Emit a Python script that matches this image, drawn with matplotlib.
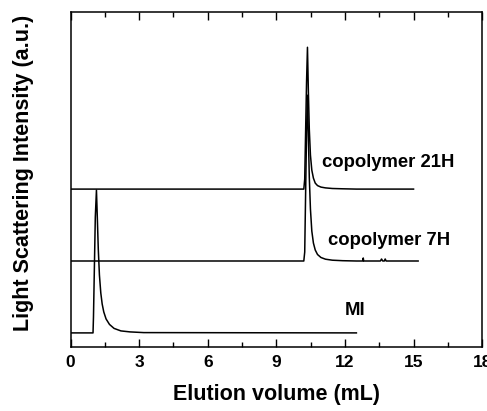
import matplotlib.pyplot as plt
from matplotlib.ticker import MultipleLocator

plt.rcParams['font.family'] = ['Liberation Sans', 'DejaVu Sans']
plt.rcParams['font.weight'] = 'bold'

# traces (x in mL, y in arbitrary units)
mi_x = [0, 0.98, 1.0, 1.08, 1.13, 1.17, 1.21, 1.26, 1.32, 1.38, 1.45, 1.55, 1.7, 1.9, 2.2, 2.6, 3.2, 12.5]
mi_y = [14, 14, 30, 130, 157, 128, 98, 72, 54, 43, 35, 28, 22.5, 18.5, 16, 15, 14.3, 14]

h7_x = [0, 10.2, 10.24, 10.32, 10.36, 10.4, 10.44, 10.49, 10.55, 10.62, 10.7, 10.8, 10.95, 11.15,
        11.45, 11.9, 12.5, 12.78, 12.8, 12.82, 13.55, 13.6, 13.65, 13.72, 13.76, 13.8, 15.2]
h7_y = [86, 86, 95, 215, 252, 210, 170, 138, 116, 104, 97, 92.5, 89.5, 87.8,
        86.8, 86.3, 86, 86, 89, 86, 86, 88, 86, 86, 88, 86, 86]

h21_x = [0, 10.2, 10.24, 10.32, 10.36, 10.4, 10.44, 10.49, 10.55, 10.62, 10.7, 10.8, 10.95, 11.15,
         11.45, 11.9, 12.5, 15.0]
h21_y = [158, 158, 168, 265, 300, 255, 218, 192, 177, 169, 164, 161.5, 160, 159.2,
         158.6, 158.3, 158, 158]

labels = ['copolymer 21H', 'copolymer 7H', 'MI']
label_x = [11.0, 11.25, 12.0]
label_y = [185, 107, 36]

fig = plt.figure(figsize=(4.87, 4.11), dpi=100)
ax = fig.add_axes([0.145, 0.156, 0.845, 0.814])

for xs, ys in [(mi_x, mi_y), (h7_x, h7_y), (h21_x, h21_y)]:
    ax.plot(xs, ys, color='black', lw=1.1)

for t, x, y in zip(labels, label_x, label_y):
    ax.text(x, y, t, fontsize=13.3, fontweight='bold', va='center', ha='left')

ax.set_xlim(0, 18)
ax.set_ylim(0, 335)
ax.xaxis.set_major_locator(MultipleLocator(3))
ax.xaxis.set_minor_locator(MultipleLocator(1.5))
ax.tick_params(axis='x', which='both', direction='in', top=True, labelsize=12.5, width=1)
ax.tick_params(axis='x', which='major', length=6, pad=6)
ax.tick_params(axis='x', which='minor', length=3.5)
ax.set_yticks([])
for s in ax.spines.values():
    s.set_linewidth(1.1)

ax.set_xlabel('Elution volume (mL)', fontsize=15.5, fontweight='bold', labelpad=10)
ax.set_ylabel('Light Scattering Intensity (a.u.)', fontsize=15.5, fontweight='bold')
ax.yaxis.set_label_coords(-0.09, 0.52)

fig.savefig('out.png', dpi=100)
